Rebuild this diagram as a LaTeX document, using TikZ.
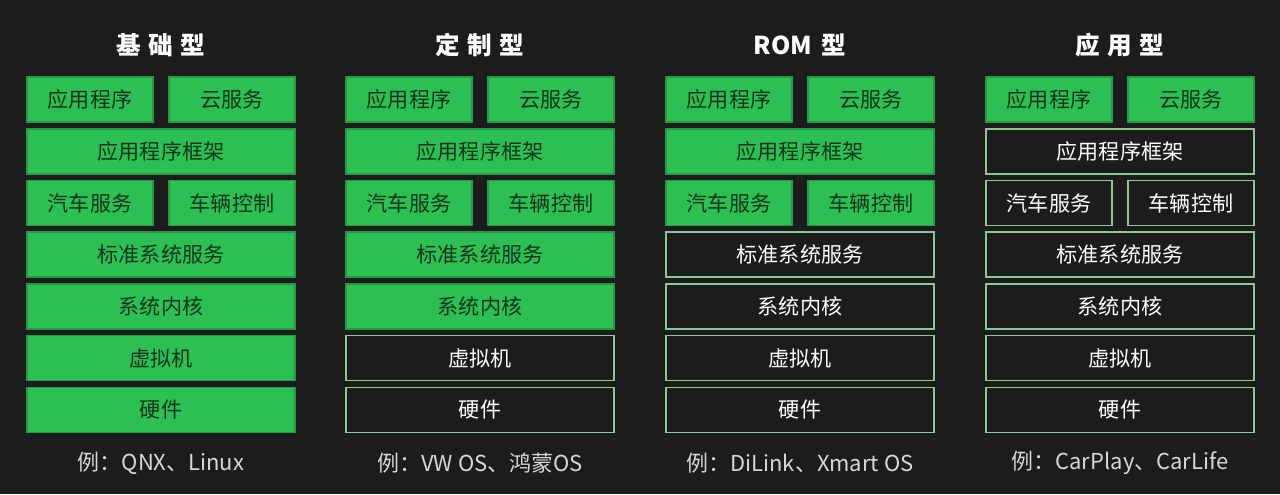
\documentclass[tikz,border=0pt]{standalone}
\usepackage{fontspec}
\setmainfont{Noto Sans CJK SC}
\usepackage{tikz}
\definecolor{bgdark}{RGB}{28,28,28}
\definecolor{layergreen}{RGB}{44,192,84}
\definecolor{layerline}{RGB}{140,200,150}
\definecolor{layertext}{RGB}{16,52,24}
\definecolor{extext}{RGB}{215,215,215}
\tikzset{
  layer/.style = {draw, line width=0.9pt, minimum height=0.9cm, inner sep=0pt, font=\fontsize{12}{13}\selectfont},
  wide/.style = {minimum width=5.36cm},
  half/.style = {minimum width=2.52cm},
  g/.style = {layer, fill=layergreen, draw=layergreen!80!black, text=layertext},
  d/.style = {layer, fill=bgdark, draw=layerline, text=white},
  coltitle/.style = {text=white, font=\fontsize{14}{16}\selectfont\bfseries},
  example/.style = {text=extext, font=\fontsize{12.5}{14}\selectfont}
}

\begin{document}
\begin{tikzpicture}[x=0.02cm,y=-0.02cm]

  \fill[bgdark] (0,0) rectangle (1280,494);

  % one stack per column: name/left edge/title/example/row styles
  \foreach \n/\x/\ttl/\ex/\ra/\rb/\rc/\rd/\re/\rf/\rg in {
      a/27/{基\hspace{0.3em}础\hspace{0.3em}型}/{例：QNX、Linux}/g/g/g/g/g/g/g,
      b/346/{定\hspace{0.3em}制\hspace{0.3em}型}/{例：VW OS、鸿蒙OS}/g/g/g/g/g/d/d,
      c/666/{ROM\hspace{0.4em}型}/{例：DiLink、Xmart OS}/g/g/g/d/d/d/d,
      d/986/{应\hspace{0.3em}用\hspace{0.3em}型}/{例：CarPlay、CarLife}/g/d/d/d/d/d/d} {
    \node[coltitle] (\n-title) at (\x+134,45) {\ttl};
    \node[\ra,half] (\n-app)   at (\x+63,99.5)   {应用程序};
    \node[\ra,half] (\n-cloud) at (\x+205,99.5)  {云服务};
    \node[\rb,wide] (\n-frame) at (\x+134,151.3) {应用程序框架};
    \node[\rc,half] (\n-car)   at (\x+63,203)    {汽车服务};
    \node[\rc,half] (\n-ctrl)  at (\x+205,203)   {车辆控制};
    \node[\rd,wide] (\n-std)   at (\x+134,254.7) {标准系统服务};
    \node[\re,wide] (\n-kern)  at (\x+134,306.4) {系统内核};
    \node[\rf,wide] (\n-vm)    at (\x+134,358.1) {虚拟机};
    \node[\rg,wide] (\n-hw)    at (\x+134,409.8) {硬件};
    \node[example] (\n-ex) at (\x+134,463) {\ex};
  }
\end{tikzpicture}
\end{document}
